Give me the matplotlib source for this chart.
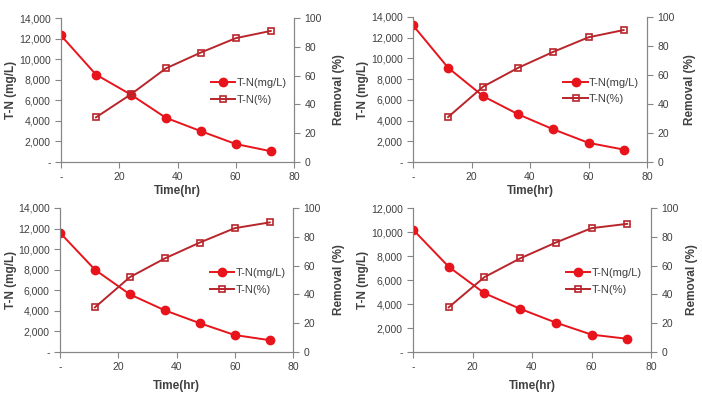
import numpy as np
import matplotlib
matplotlib.use('Agg')
import matplotlib.pyplot as plt
from matplotlib.ticker import FuncFormatter, MultipleLocator

plt.rcParams['font.family'] = ['Liberation Sans', 'DejaVu Sans']

# data
time_mg = [0, 12, 24, 36, 48, 60, 72]
time_pct = [12, 24, 36, 48, 60, 72]

tn_mg_1 = [12300, 8500, 6550, 4300, 3000, 1750, 1050]
tn_pct_1 = [31, 47, 65, 76, 86, 91]
tn_mg_2 = [13200, 9100, 6350, 4600, 3150, 1850, 1200]
tn_pct_2 = [31, 52, 65, 76, 86, 91]
tn_mg_3 = [11600, 8000, 5600, 4050, 2800, 1650, 1150]
tn_pct_3 = [31, 52, 65, 76, 86, 90]
tn_mg_4 = [10200, 7100, 4900, 3600, 2450, 1450, 1100]
tn_pct_4 = [31, 52, 65, 76, 86, 89]

ymax = [14000, 14000, 14000, 12000]

# axes boxes in pixels: left, right, top, bottom
boxes = [(61, 294, 18, 162), (413, 647, 17, 162),
         (60, 293, 208, 352), (413, 651, 208, 352)]
# label anchor positions in pixels: left ylabel x, right ylabel x, xlabel top y
labpos = [(17, 333, 185), (369, 684, 185),
          (17, 333, 380), (369, 686, 380)]

W, H = 702, 393
red = '#e8141b'
dred = '#b8252b'
grey = '#868686'
tcol = '#404040'

def acc(v, pos):
    if v == 0:
        return '-'
    return '{:,.0f}'.format(v)

fig = plt.figure(figsize=(W / 100, H / 100), dpi=100)
allmg = [tn_mg_1, tn_mg_2, tn_mg_3, tn_mg_4]
allpct = [tn_pct_1, tn_pct_2, tn_pct_3, tn_pct_4]

for k in range(4):
    l, r, t, b = boxes[k]
    ax = fig.add_axes([l / W, 1 - b / H, (r - l) / W, (b - t) / H])
    ax2 = ax.twinx()
    h1, = ax.plot(time_mg, allmg[k], '-o', color=red, ms=6, lw=1.4,
                  label='T-N(mg/L)', zorder=3)
    h2, = ax2.plot(time_pct, allpct[k], '-s', color=dred, ms=4.5, lw=1.4,
                   mfc='none', mew=1.2, label='T-N(%)')
    ax.set_xlim(0, 80)
    ax.set_ylim(0, ymax[k])
    ax2.set_ylim(0, 100)
    ax.xaxis.set_major_locator(MultipleLocator(20))
    ax.yaxis.set_major_locator(MultipleLocator(2000))
    ax2.yaxis.set_major_locator(MultipleLocator(20))
    ax.xaxis.set_major_formatter(FuncFormatter(acc))
    ax.yaxis.set_major_formatter(FuncFormatter(acc))
    for a in (ax, ax2):
        a.spines['top'].set_visible(False)
        for s in ('left', 'right', 'bottom'):
            a.spines[s].set_color(grey)
        a.tick_params(colors=grey, labelcolor=tcol, labelsize=7.5,
                      length=4, direction='out')
    ax.set_xlabel('Time(hr)', fontsize=8.5, fontweight='bold', color=tcol)
    ax.set_ylabel('T-N (mg/L)', fontsize=8.5, fontweight='bold', color=tcol)
    ax2.set_ylabel('Removal (%)', fontsize=8.5, fontweight='bold', color=tcol)
    lx, rx, xy = labpos[k]
    ax.yaxis.set_label_coords((lx - l) / (r - l), 0.5)
    ax2.yaxis.set_label_coords((rx - l) / (r - l), 0.5)
    ax.xaxis.set_label_coords(0.5, (b - xy) / (b - t))
    ax2.legend([h1, h2], ['T-N(mg/L)', 'T-N(%)'], loc='center left',
               bbox_to_anchor=(0.6, 0.49), frameon=False, fontsize=8,
               handlelength=2.2, handletextpad=0.1, labelspacing=0.6,
               labelcolor=tcol)

fig.savefig('out.png', dpi=100)
